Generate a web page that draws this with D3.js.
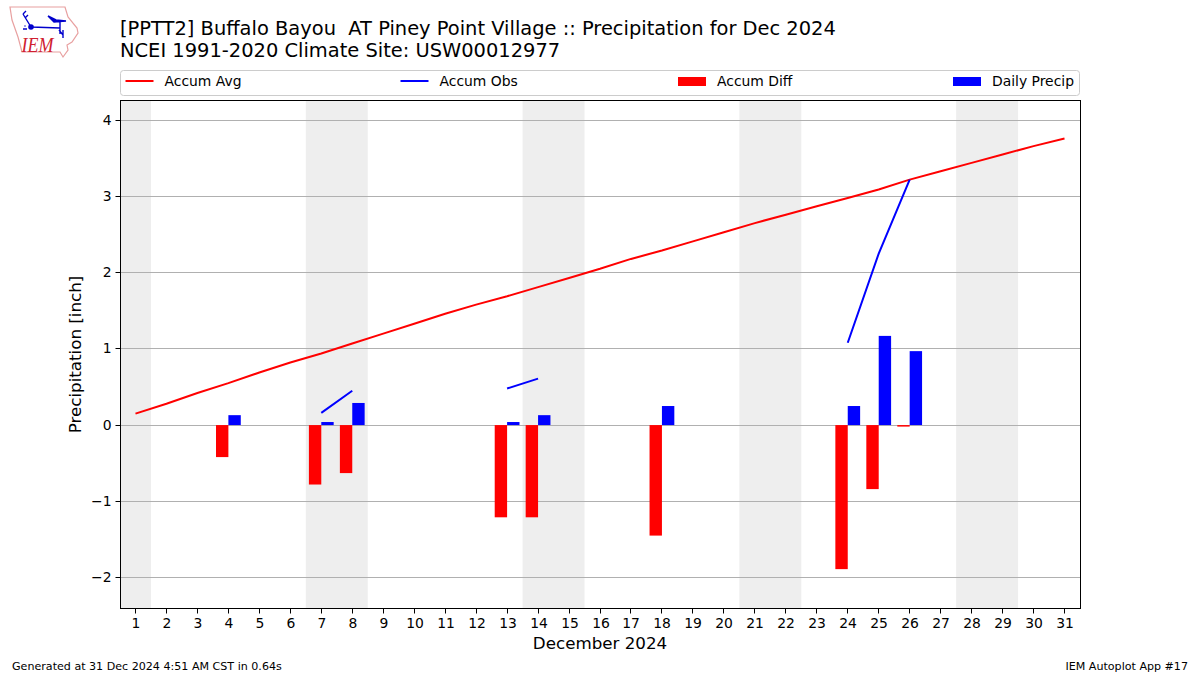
<!DOCTYPE html>
<html>
<head>
<meta charset="utf-8">
<script src="https://cdn.jsdelivr.net/npm/d3@7"></script>
<style>
  html, body { margin: 0; padding: 0; background: #fff; }
  svg { display: block; }
  text { font-family: "DejaVu Sans", sans-serif; fill: #000; white-space: pre; }
</style>
</head>
<body>
<div id="chart"></div>
<script>
const days = d3.range(1, 32);
const accumAvg = [0.15, 0.28, 0.42, 0.55, 0.69, 0.82, 0.94, 1.07, 1.20, 1.33, 1.46, 1.58, 1.69, 1.81, 1.93, 2.05,
  2.18, 2.29, 2.41, 2.53, 2.65, 2.76, 2.87, 2.98, 3.09, 3.22, 3.33, 3.44, 3.55, 3.66, 3.76];
const obsDays = [4, 7, 8, 13, 14, 18, 24, 25, 26];
const accumObs = [0.13, 0.16, 0.45, 0.48, 0.61, 0.85, 1.08, 2.25, 3.22];
const accumDiff = [-0.42, -0.78, -0.63, -1.21, -1.21, -1.45, -1.89, -0.84, -0.02];
const dailyPrecip = [0.13, 0.04, 0.29, 0.04, 0.13, 0.25, 0.25, 1.17, 0.97];
const weekends = [[0.5, 1.5], [6.5, 8.5], [13.5, 15.5], [20.5, 22.5], [27.5, 29.5]];
const yTicks = [-2, -1, 0, 1, 2, 3, 4];
const legendItems = ['Accum Avg', 'Accum Obs', 'Accum Diff', 'Daily Precip'];

const plotLeft = 120, plotRight = 1080, plotTop = 100, plotBottom = 608;
const barWidth = 0.4;

const x = d3.scaleLinear().domain([0.5, 31.5]).range([plotLeft, plotRight]);
const y = d3.scaleLinear().domain([-2.4, 4.265]).range([plotBottom, plotTop]);

const svg = d3.select('#chart').append('svg').attr('width', 1200).attr('height', 675);

// weekend shading goes under everything
svg.append('g').selectAll('rect').data(weekends).join('rect')
  .attr('x', d => x(d[0]))
  .attr('y', plotTop)
  .attr('width', d => x(d[1]) - x(d[0]))
  .attr('height', plotBottom - plotTop)
  .attr('fill', '#eeeeee');

svg.append('g').selectAll('line').data(yTicks).join('line')
  .attr('x1', plotLeft)
  .attr('x2', plotRight)
  .attr('y1', d => Math.floor(y(d)) + 0.5)
  .attr('y2', d => Math.floor(y(d)) + 0.5)
  .attr('stroke', '#b0b0b0')
  .attr('stroke-width', 1.1);

svg.append('g').selectAll('rect').data(obsDays).join('rect')
  .attr('x', d => x(d - barWidth))
  .attr('width', x(barWidth) - x(0))
  .attr('y', y(0))
  .attr('height', (d, i) => y(accumDiff[i]) - y(0))
  .attr('fill', '#ff0000');

svg.append('g').selectAll('rect').data(obsDays).join('rect')
  .attr('x', d => x(d))
  .attr('width', x(barWidth) - x(0))
  .attr('y', (d, i) => y(dailyPrecip[i]))
  .attr('height', (d, i) => y(0) - y(dailyPrecip[i]))
  .attr('fill', '#0000ff');

const lineAvg = d3.line().x((d, i) => x(days[i])).y(d => y(d));
svg.append('path')
  .attr('d', lineAvg(accumAvg))
  .attr('fill', 'none')
  .attr('stroke', '#ff0000')
  .attr('stroke-width', 2);

// obs line breaks wherever a day has no value
const obsByDay = new Map(obsDays.map((d, i) => [d, accumObs[i]]));
const lineObs = d3.line()
  .defined(d => obsByDay.has(d))
  .x(d => x(d))
  .y(d => y(obsByDay.get(d)));
svg.append('path')
  .attr('d', lineObs(days))
  .attr('fill', 'none')
  .attr('stroke', '#0000ff')
  .attr('stroke-width', 2);

svg.append('rect')
  .attr('x', plotLeft + 0.5)
  .attr('y', plotTop + 0.5)
  .attr('width', plotRight - plotLeft)
  .attr('height', plotBottom - plotTop)
  .attr('fill', 'none')
  .attr('stroke', '#000')
  .attr('stroke-width', 1);

const xAxis = svg.append('g')
  .attr('transform', `translate(0,${plotBottom + 0.5})`)
  .call(d3.axisBottom(x).tickValues(days).tickFormat(d3.format('d')).tickSize(5).tickPadding(5).offset(0));
const yAxis = svg.append('g')
  .attr('transform', `translate(${plotLeft + 0.5},0)`)
  .call(d3.axisLeft(y).tickValues(yTicks).tickFormat(d => String(d).replace('-', '\u2212')).tickSize(5).tickPadding(4).offset(0));
// snap ticks to whole pixels so they stay crisp
xAxis.selectAll('.tick').attr('transform', d => `translate(${Math.floor(x(d)) + 0.5},0)`);
yAxis.selectAll('.tick').attr('transform', d => `translate(0,${Math.floor(y(d)) + 0.5})`);
[xAxis, yAxis].forEach(a => {
  a.select('.domain').remove();
  a.selectAll('text').style('font-family', '"DejaVu Sans", sans-serif').style('font-size', '13.9px');
  a.selectAll('line').attr('stroke', '#000').attr('stroke-width', 1);
});
xAxis.selectAll('text').attr('dx', 0.5);

svg.append('text')
  .attr('x', (plotLeft + plotRight) / 2)
  .attr('y', 649)
  .attr('text-anchor', 'middle')
  .style('font-size', '16.7px')
  .text('December 2024');

svg.append('text')
  .attr('transform', `translate(81,${(plotTop + plotBottom) / 2 + 0.5}) rotate(-90)`)
  .attr('text-anchor', 'middle')
  .style('font-size', '16.7px')
  .text('Precipitation [inch]');

svg.append('text').attr('x', 120).attr('y', 35).style('font-size', '19.45px')
  .text('[PPTT2] Buffalo Bayou  AT Piney Point Village :: Precipitation for Dec 2024');
svg.append('text').attr('x', 120).attr('y', 57).style('font-size', '19.45px')
  .text('NCEI 1991-2020 Climate Site: USW00012977');

svg.append('text').attr('x', 12).attr('y', 670).style('font-size', '11.1px')
  .text('Generated at 31 Dec 2024 4:51 AM CST in 0.64s');
svg.append('text').attr('x', 1188).attr('y', 670).attr('text-anchor', 'end').style('font-size', '11.1px')
  .text('IEM Autoplot App #17');

// legend
const legend = svg.append('g');
legend.append('rect')
  .attr('x', 120.5).attr('y', 70.5).attr('width', 959).attr('height', 25).attr('rx', 3)
  .attr('fill', '#fff').attr('stroke', '#cccccc');
const legendX = [125.5, 400.5, 678, 953];
legendItems.forEach((name, i) => {
  if (i < 2) {
    legend.append('line')
      .attr('x1', legendX[i]).attr('x2', legendX[i] + 28).attr('y1', 81).attr('y2', 81)
      .attr('stroke', i === 0 ? '#ff0000' : '#0000ff').attr('stroke-width', 2);
  } else {
    legend.append('rect')
      .attr('x', legendX[i]).attr('y', 77).attr('width', 28).attr('height', 9)
      .attr('fill', i === 2 ? '#ff0000' : '#0000ff');
  }
  legend.append('text').attr('x', legendX[i] + 39).attr('y', 86).style('font-size', '13.9px').text(name);
});

// IEM logo, state outline plus weather station
const logo = svg.append('g');
logo.append('path')
  .attr('d', 'M10 7 L65 7 L68 17 L77 28 L78 33 L72 42 L67 45 L68 50 L63 57 L60 52 L22 52 L18 37 L12 20 Z')
  .attr('fill', '#fff').attr('stroke', '#e8a0a0').attr('stroke-width', 1.2);
logo.append('path')
  .attr('d', 'M31 27 L60 28 M60 21 L60 34 M48 16 L56 20 L66 21 L54 22 Z M31 27 L23 14 M23 14 L26 11 M25 18 L28 15 M59 30 L63 35 M63 30 L63 38')
  .attr('fill', '#0000cc').attr('stroke', '#0000cc').attr('stroke-width', 1.4);
logo.append('circle').attr('cx', 31).attr('cy', 27).attr('r', 2.8).attr('fill', '#0000cc');
logo.append('path').attr('d', 'M23 29 L27 29 M24.5 26 L25.5 26').attr('stroke', '#0000cc').attr('stroke-width', 1.4);
logo.append('text')
  .attr('x', 21.5).attr('y', 52)
  .attr('textLength', 32)
  .attr('lengthAdjust', 'spacingAndGlyphs')
  .style('font-family', '"Liberation Serif", serif')
  .style('font-style', 'italic')
  .style('font-size', '22px')
  .style('fill', '#d02030')
  .text('IEM');
</script>
</body>
</html>
